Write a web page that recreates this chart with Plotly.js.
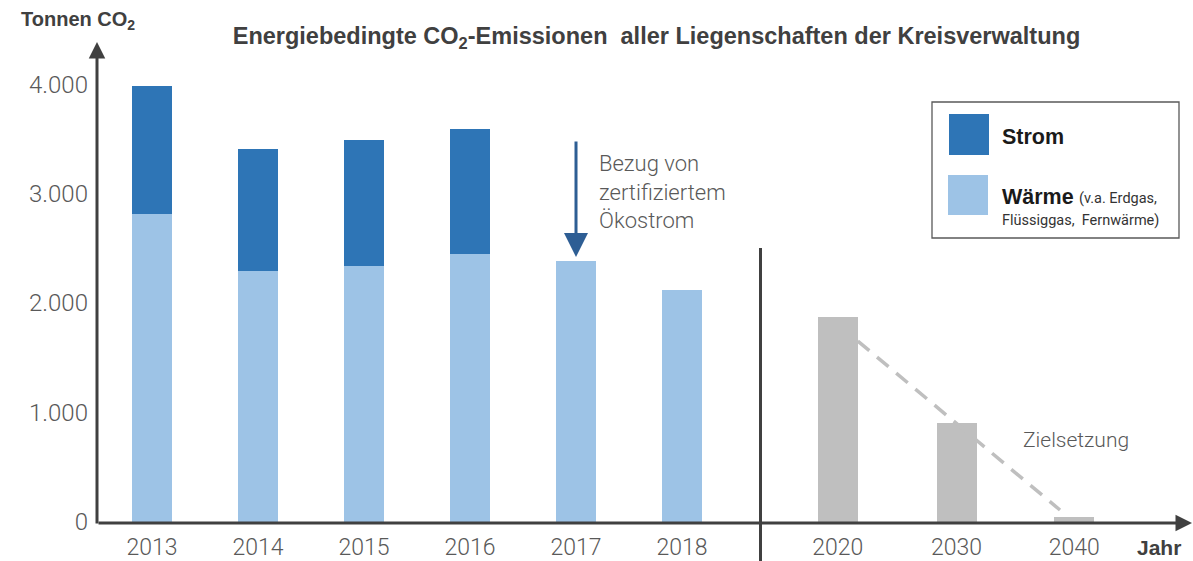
<!DOCTYPE html>
<html>
<head>
<meta charset="utf-8">
<script src="https://cdn.plot.ly/plotly-3.0.1.min.js"></script>
<style>html,body{margin:0;padding:0;background:#fff;}#chart{width:1193px;height:561px;}</style>
</head>
<body>
<div id="chart"></div>
<script>
// ---- data ----
const years = ["2013","2014","2015","2016","2017","2018","2020","2030","2040"];
const waerme = [2813, 2296, 2340, 2447, 2383, 2118];
const strom = [1171, 1112, 1150, 1144];
const ziel = [1871, 901, 41];
const yTickVals = [0, 1000, 2000, 3000, 4000];
const yTickText = ["0", "1.000", "2.000", "3.000", "4.000"];

// ---- layout helpers (positions only) ----
const slots = [0, 1, 2, 3, 4, 5, 6.47, 7.59, 8.70];
const L = 97, T = 42, W = 1096, H = 481;
const PX = p => (p - L) / W;
const PY = p => (T + H - p) / H;
const BOLD = "Liberation Sans, Arial, sans-serif";
const LIGHT = "Roboto, Liberation Sans, sans-serif";
const GREY = "#595959";
const DARK = "#404040";
const barW = 0.377;

const traces = [
  {type: "bar", x: slots.slice(0, 6), y: waerme, width: barW,
   marker: {color: "#9dc3e6"}, name: "Wärme", hoverinfo: "skip"},
  {type: "bar", x: slots.slice(0, 4), y: strom, width: barW,
   marker: {color: "#2e75b6"}, name: "Strom", hoverinfo: "skip"},
  {type: "bar", x: slots.slice(6), y: ziel, width: barW,
   marker: {color: "#bfbfbf"}, name: "Ziel", hoverinfo: "skip"}
];

const layout = {
  width: 1193, height: 561,
  margin: {l: L, r: 1193 - L - W, t: T, b: 561 - T - H, pad: 0},
  paper_bgcolor: "#fff", plot_bgcolor: "#fff",
  barmode: "stack", showlegend: false,
  font: {family: LIGHT, color: GREY},
  title: {
    text: "Energiebedingte CO<sub>2</sub>-Emissionen \u00a0aller Liegenschaften der Kreisverwaltung",
    font: {family: BOLD, size: 23.5, weight: "bold", color: DARK},
    x: 656.5 / 1193, xanchor: "center", xref: "container",
    y: 1 - 36 / 561, yanchor: "middle", yref: "container"
  },
  xaxis: {
    range: [-0.519, -0.519 + W / 106], showgrid: false, zeroline: false, showline: false,
    tickmode: "array", tickvals: slots, ticktext: years,
    ticks: "", ticklabelstandoff: 8,
    tickfont: {family: LIGHT, size: 23, weight: 300, color: GREY}, fixedrange: true
  },
  yaxis: {
    range: [(521.5 - (T + H)) / 0.1093, (521.5 - T) / 0.1093],
    showgrid: false, zeroline: false, showline: false,
    tickmode: "array", tickvals: yTickVals, ticktext: yTickText,
    ticks: "", ticklabelstandoff: 8,
    tickfont: {family: LIGHT, size: 24, weight: 300, color: GREY}, fixedrange: true
  },
  shapes: [
    // separator between actuals and targets
    {type: "line", xref: "paper", yref: "paper", x0: PX(760.5), x1: PX(760.5), y0: PY(248), y1: PY(561),
     line: {color: DARK, width: 3}},
    // target trend line
    {type: "line", xref: "x", yref: "y", x0: slots[6] + barW / 2, y0: 1651, x1: 8.566, y1: 105,
     line: {color: "#bfbfbf", width: 3.5, dash: "15px,10px"}},
    // legend box
    {type: "rect", xref: "paper", yref: "paper", x0: PX(932), x1: PX(1179), y0: PY(238), y1: PY(102),
     line: {color: "#595959", width: 1.3}, fillcolor: "rgba(0,0,0,0)"},
    {type: "rect", xref: "paper", yref: "paper", x0: PX(949), x1: PX(989), y0: PY(155), y1: PY(114),
     line: {width: 0}, fillcolor: "#2e75b6"},
    {type: "rect", xref: "paper", yref: "paper", x0: PX(948), x1: PX(988), y0: PY(215), y1: PY(175),
     line: {width: 0}, fillcolor: "#9dc3e6"}
  ],
  annotations: [
    // y axis with arrow
    {xref: "paper", yref: "paper", x: 0, y: 1, text: "", showarrow: true,
     axref: "pixel", ayref: "pixel", ax: 0, ay: 483, arrowhead: 2, arrowsize: 1.1, arrowwidth: 3,
     arrowcolor: DARK, standoff: 0, startstandoff: 0},
    // x axis with arrow
    {xref: "paper", yref: "paper", x: 1, y: 0, text: "", showarrow: true,
     axref: "pixel", ayref: "pixel", ax: -W, ay: 0, arrowhead: 2, arrowsize: 1.1, arrowwidth: 3,
     arrowcolor: DARK, standoff: 0, startstandoff: 0},
    // Ökostrom arrow
    {xref: "x", yref: "y", x: slots[4], y: 2420, text: "", showarrow: true,
     ax: 0, ay: -117, arrowhead: 2, arrowsize: 1.6, arrowwidth: 3,
     arrowcolor: "#2e5e94", standoff: 0},
    {xref: "paper", yref: "paper", x: PX(597), y: PY(192), xanchor: "left", yanchor: "middle",
     align: "left", showarrow: false,
     text: "Bezug von<br>zertifiziertem<br>Ökostrom",
     font: {family: LIGHT, size: 22, weight: 300, color: GREY}},
    {xref: "paper", yref: "paper", x: PX(1021), y: PY(440), xanchor: "left", yanchor: "middle",
     showarrow: false, text: "Zielsetzung", font: {family: LIGHT, size: 21, weight: 300, color: GREY}},
    // axis captions
    {xref: "paper", yref: "paper", x: PX(19), y: PY(20), xanchor: "left", yanchor: "middle",
     showarrow: false, text: "Tonnen CO<sub>2</sub>",
     font: {family: BOLD, size: 20, weight: "bold", color: DARK}},
    {xref: "paper", yref: "paper", x: PX(1183), y: PY(547), xanchor: "right", yanchor: "middle",
     showarrow: false, text: "Jahr",
     font: {family: BOLD, size: 21, weight: "bold", color: DARK}},
    // legend texts
    {xref: "paper", yref: "paper", x: PX(1000), y: PY(137), xanchor: "left", yanchor: "middle",
     showarrow: false, text: "Strom",
     font: {family: BOLD, size: 21.5, weight: "bold", color: "#1a1a1a"}},
    {xref: "paper", yref: "paper", x: PX(1000), y: PY(197), xanchor: "left", yanchor: "middle",
     showarrow: false, text: "Wärme",
     font: {family: BOLD, size: 21.5, weight: "bold", color: "#1a1a1a"}},
    {xref: "paper", yref: "paper", x: PX(1077), y: PY(199), xanchor: "left", yanchor: "middle",
     showarrow: false, text: "(v.a. Erdgas,",
     font: {family: LIGHT, size: 14.5, color: "#333"}},
    {xref: "paper", yref: "paper", x: PX(1000), y: PY(220), xanchor: "left", yanchor: "middle",
     showarrow: false, text: "Flüssiggas, \u00a0Fernwärme)",
     font: {family: LIGHT, size: 14.5, color: "#333"}}
  ]
};

Plotly.newPlot("chart", traces, layout, {displayModeBar: false, staticPlot: true});
</script>
</body>
</html>
